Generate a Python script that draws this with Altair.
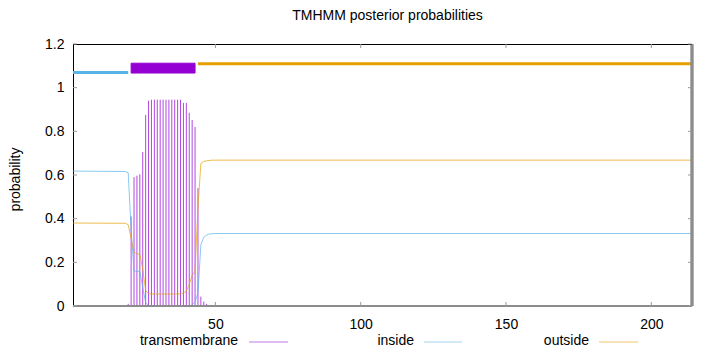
import altair as alt
import pandas as pd

# ---------------- data ----------------
# transmembrane posterior (impulses), one value per residue 19..49 (all others ~0)
tm_residue = list(range(19, 50))
tm_prob = [0.003, 0.01, 0.41, 0.59, 0.597, 0.603, 0.705, 0.875, 0.94,
           0.945, 0.945, 0.945, 0.945, 0.945, 0.945, 0.945, 0.945, 0.945, 0.945, 0.945,
           0.93, 0.93, 0.885, 0.852, 0.82, 0.54, 0.043, 0.02, 0.01, 0.005, 0.002]

# inside posterior (line), read at its breakpoints
inside_residue = [1, 19, 20, 21, 22, 23, 24, 25, 26, 27, 28, 41, 42, 43, 44, 45, 46, 47, 48, 50, 214]
inside_prob = [0.618, 0.616, 0.61, 0.35, 0.16, 0.16, 0.157, 0.085, 0.015, 0.003, 0.0, 0.0,
               0.005, 0.02, 0.06, 0.28, 0.315, 0.325, 0.33, 0.332, 0.332]

# outside posterior (line), read at its breakpoints
outside_residue = [1, 19, 20, 21, 22, 23, 24, 25, 26, 27, 28, 38, 39, 40, 41, 42, 43, 44, 45, 46, 47, 49, 214]
outside_prob = [0.38, 0.379, 0.372, 0.31, 0.245, 0.24, 0.235, 0.17, 0.07, 0.057, 0.055, 0.055,
                0.06, 0.068, 0.10, 0.14, 0.16, 0.45, 0.653, 0.662, 0.665, 0.668, 0.668]

# predicted topology drawn at the top
seg_label = ["inside", "TMhelix", "outside"]
seg_start = [1, 21, 44]
seg_end = [20, 43, 214]
seg_lo = [1.07, 1.067, 1.11]
seg_hi = [1.07, 1.112, 1.11]

x_ticks = [50, 100, 150, 200]
y_ticks = [0, 0.2, 0.4, 0.6, 0.8, 1, 1.2]
legend_labels = ["transmembrane", "inside", "outside"]

# ---------------- styling ----------------
FONT = "Liberation Sans"
FS = 14
W, H = 619, 262
PURPLE, BLUE, ORANGE = "#9400d3", "#56b4e9", "#e69f00"
TICK = "#999999"

xs = alt.Scale(domain=[1, 214], nice=False, zero=False)
ys = alt.Scale(domain=[0, 1.2], nice=False, zero=False)

tm_df = pd.DataFrame({"residue": tm_residue, "p": tm_prob})
in_df = pd.DataFrame({"residue": inside_residue, "p": inside_prob})
out_df = pd.DataFrame({"residue": outside_residue, "p": outside_prob})
seg_df = pd.DataFrame({"label": seg_label, "start": seg_start, "end": seg_end,
                       "lo": seg_lo, "hi": seg_hi})
xt_df = pd.DataFrame({"v": x_ticks})
yt_df = pd.DataFrame({"v": y_ticks})

x_axis = alt.Axis(values=x_ticks, ticks=False, domain=False, grid=False,
                  labelFont=FONT, labelFontSize=FS, labelColor="black",
                  labelPadding=11, labelFlush=False, labelOverlap=False, title=None)
y_axis = alt.Axis(values=y_ticks, format="~g", ticks=False, domain=True,
                  domainColor="black", domainWidth=1, grid=False,
                  labelFont=FONT, labelFontSize=FS, labelColor="black",
                  labelPadding=9, labelFlush=False, labelOverlap=False,
                  title="probability", titleFont=FONT, titleFontSize=FS,
                  titleFontWeight="normal", titleColor="black",
                  titleAngle=-90, titleX=-58, titleY=135,
                  titleAlign="center", titleBaseline="middle")


def X(field):
    return alt.X(field, type="quantitative", scale=xs, axis=x_axis)


def Y(field):
    return alt.Y(field, type="quantitative", scale=ys, axis=y_axis)


# border lines
top_border = alt.Chart(xt_df).mark_rule(color="black", strokeWidth=1).encode(
    x=alt.value(0), x2=alt.value(W), y=alt.value(0.5))
bottom_border = alt.Chart(xt_df).mark_rule(color="#8c8c8c", strokeWidth=2).encode(
    x=alt.value(0), x2=alt.value(W), y=alt.value(H))
right_border = alt.Chart(xt_df).mark_rule(color="#8c8c8c", strokeWidth=2.5).encode(
    x=alt.value(W), y=alt.value(0), y2=alt.value(H))

# inward ticks (gnuplot style, mirrored)
xt_bottom = alt.Chart(xt_df).mark_rule(color=TICK, strokeWidth=1).encode(
    x=X("v"), y=alt.value(H), y2=alt.value(H - 4))
xt_top = alt.Chart(xt_df).mark_rule(color=TICK, strokeWidth=1).encode(
    x=X("v"), y=alt.value(0), y2=alt.value(4))
yt_left = alt.Chart(yt_df).mark_rule(color=TICK, strokeWidth=1).encode(
    y=Y("v"), x=alt.value(0), x2=alt.value(4))
yt_right = alt.Chart(yt_df).mark_rule(color=TICK, strokeWidth=1).encode(
    y=Y("v"), x=alt.value(W - 4), x2=alt.value(W))

# impulses for transmembrane posterior
impulses = alt.Chart(tm_df).mark_rule(color=PURPLE, strokeWidth=1, opacity=0.72).encode(
    x=X("residue"), y=Y("p"), y2=alt.datum(0),
)

inside_line = alt.Chart(in_df).mark_line(color=BLUE, strokeWidth=1, opacity=0.7).encode(
    x=X("residue"), y=Y("p"))
outside_line = alt.Chart(out_df).mark_line(color=ORANGE, strokeWidth=1, opacity=0.7).encode(
    x=X("residue"), y=Y("p"))

seg_base = alt.Chart(seg_df)
seg_inside = seg_base.transform_filter(alt.datum.label == "inside").mark_rule(
    color=BLUE, strokeWidth=3).encode(x=X("start"), x2="end:Q", y=Y("lo"))
seg_outside = seg_base.transform_filter(alt.datum.label == "outside").mark_rule(
    color=ORANGE, strokeWidth=3).encode(x=X("start"), x2="end:Q", y=Y("lo"))
seg_tm = seg_base.transform_filter(alt.datum.label == "TMhelix").mark_rect(
    color=PURPLE, stroke=PURPLE, strokeWidth=1).encode(
    x=X("start"), x2="end:Q", y=Y("lo"), y2="hi:Q")

# legend (gnuplot style: label then line sample)
leg_text_x = [165, 341, 516]
leg_line_x = [(176, 215), (351, 389), (526, 565)]
leg_colors = ["#c47ae6", "#a6d6f2", "#f2c870"]
LEG_Y = 297
legend_layers = []
for i, lab in enumerate(legend_labels):
    ldf = pd.DataFrame({"label": [lab]})
    legend_layers.append(
        alt.Chart(ldf).mark_text(font=FONT, fontSize=FS, color="black",
                                 align="right", baseline="middle").encode(
            text="label:N", x=alt.value(leg_text_x[i]), y=alt.value(LEG_Y)))
    legend_layers.append(
        alt.Chart(ldf).mark_rule(stroke=leg_colors[i], strokeWidth=1.2).encode(
            x=alt.value(leg_line_x[i][0]), x2=alt.value(leg_line_x[i][1]),
            y=alt.value(LEG_Y + 1)))

chart = alt.layer(
    impulses, inside_line, outside_line,
    seg_inside, seg_tm, seg_outside,
    bottom_border, right_border, top_border,
    xt_bottom, xt_top, yt_left, yt_right,
    *legend_layers,
).properties(
    width=W, height=H,
    title=alt.TitleParams("TMHMM posterior probabilities", font=FONT, fontSize=FS,
                          fontWeight="normal", color="black", anchor="middle",
                          offset=14, dx=5),
    autosize=alt.AutoSizeParams(type="none"),
    padding={"left": 73, "top": 44, "right": 28, "bottom": 46},
).configure_view(stroke=None).configure(background="white")

chart.save("out.html", embed_options={"renderer": "svg", "actions": False})
